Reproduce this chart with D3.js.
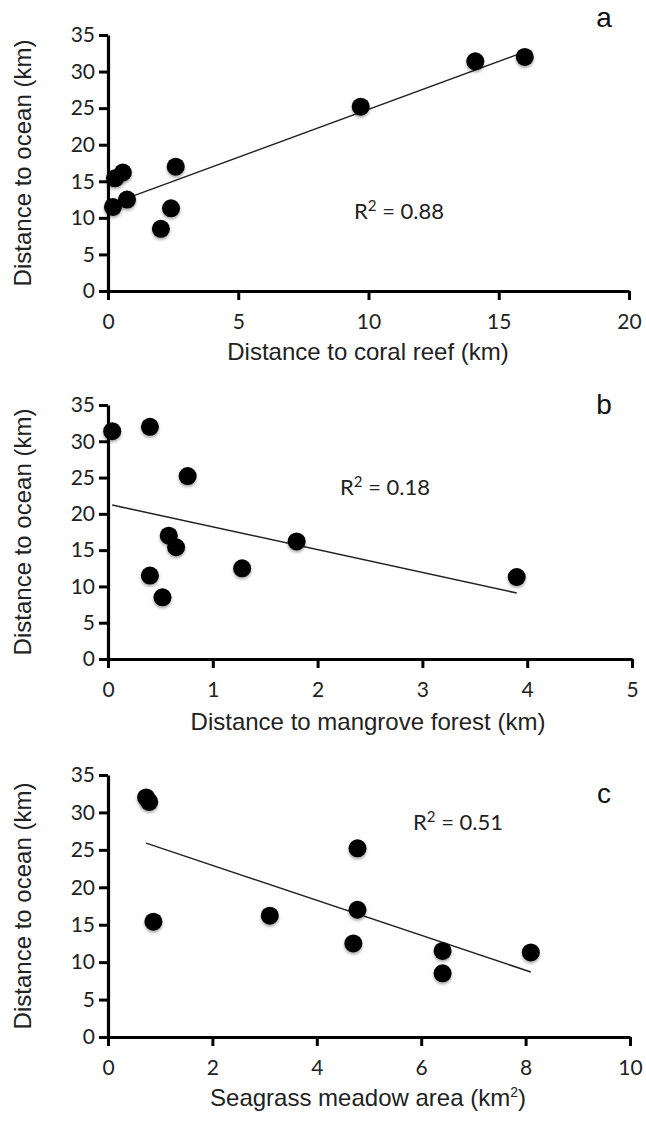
<!DOCTYPE html>
<html>
<head>
<meta charset="utf-8">
<script src="https://d3js.org/d3.v7.min.js"></script>
<style>
  body { margin: 0; background: #fff; }
  .tick text { font-family: Lato, "Open Sans", sans-serif; font-size: 21px; fill: #222; }
  .title { font-family: "Liberation Sans", Arial, sans-serif; font-size: 24px; fill: #222; }
  .rsq { font-family: Lato, "Open Sans", sans-serif; font-size: 22px; fill: #222; }
  .letter { font-family: "Liberation Sans", Arial, sans-serif; font-size: 28px; fill: #111; }
</style>
</head>
<body>
<svg id="vis" width="646" height="1128"></svg>
<script>
  // distance to ocean (km), same ten sites in every panel
  var oceanDist = [32.0, 31.4, 25.2, 17.0, 16.2, 15.4, 12.5, 11.5, 11.3, 8.5];

  // panel a, b, c x values (same site order as oceanDist)
  var coralReef = [16.0, 14.1, 9.7, 2.6, 0.57, 0.27, 0.73, 0.19, 2.42, 2.03];
  var mangrove  = [0.40, 0.04, 0.76, 0.58, 1.80, 0.65, 1.28, 0.40, 3.90, 0.52];
  var seagrass  = [0.73, 0.79, 4.78, 4.78, 3.10, 0.87, 4.70, 6.41, 8.10, 6.41];

  var yTicks = [0, 5, 10, 15, 20, 25, 30, 35];
  var coralTicks = [0, 5, 10, 15, 20];
  var mangroveTicks = [0, 1, 2, 3, 4, 5];
  var seagrassTicks = [0, 2, 4, 6, 8, 10];

  var rsqValues = ["0.88", "0.18", "0.51"];
  var panelLetters = ["a", "b", "c"];

  var svg = d3.select("#vis");

  // drop shadow under the dots
  var defs = svg.append("defs");
  defs.append("filter")
    .attr("id", "shadow")
    .attr("x", "-50%").attr("y", "-50%")
    .attr("width", "200%").attr("height", "200%")
    .append("feDropShadow")
    .attr("dx", 0).attr("dy", 2)
    .attr("stdDeviation", 1.6)
    .attr("flood-color", "#000")
    .attr("flood-opacity", 0.35);

  // layout of the three panels
  var panels = [
    { xs: coralReef, xTicks: coralTicks, left: 108, right: 629, top: 35, bottom: 291,
      xTitle: "Distance to coral reef (km)", titleY: 360, rsq: [354, 219], letterY: 27 },
    { xs: mangrove, xTicks: mangroveTicks, left: 108, right: 632, top: 405, bottom: 659,
      xTitle: "Distance to mangrove forest (km)", titleY: 730, rsq: [340, 495], letterY: 414 },
    { xs: seagrass, xTicks: seagrassTicks, left: 108, right: 630, top: 775, bottom: 1037,
      xTitle: "Seagrass meadow area (km", titleY: 1106, rsq: [413, 830], letterY: 803 }
  ];

  panels.forEach(function(p, i) {
    var xs = p.xs;
    var x = d3.scaleLinear()
      .domain([p.xTicks[0], p.xTicks[p.xTicks.length - 1]])
      .range([p.left, p.right]);
    var y = d3.scaleLinear()
      .domain([0, 35])
      .range([p.bottom, p.top]);

    var g = svg.append("g");

    // y axis
    var yAxis = g.append("g")
      .attr("transform", "translate(" + p.left + ",0)")
      .call(d3.axisLeft(y).tickValues(yTicks).tickFormat(d3.format("d"))
        .tickSize(9).tickSizeOuter(0).tickPadding(4));

    // x axis
    var xAxis = g.append("g")
      .attr("transform", "translate(0," + p.bottom + ")")
      .call(d3.axisBottom(x).tickValues(p.xTicks).tickFormat(d3.format("d"))
        .tickSize(9).tickSizeOuter(0).tickPadding(14));

    [yAxis, xAxis].forEach(function(a) {
      a.select(".domain").attr("stroke", "#000").attr("stroke-width", 3.2);
      a.selectAll(".tick line").attr("stroke", "#000").attr("stroke-width", 3);
    });

    // least squares trend line
    var pts = xs.map(function(v, k) { return [v, oceanDist[k]]; });
    var mx = d3.mean(xs), my = d3.mean(oceanDist);
    var sxy = d3.sum(pts, function(d) { return (d[0] - mx) * (d[1] - my); });
    var sxx = d3.sum(pts, function(d) { return (d[0] - mx) * (d[0] - mx); });
    var slope = sxy / sxx, icpt = my - slope * mx;
    var ext = d3.extent(xs);
    g.append("line")
      .attr("x1", x(ext[0])).attr("y1", y(icpt + slope * ext[0]))
      .attr("x2", x(ext[1])).attr("y2", y(icpt + slope * ext[1]))
      .attr("stroke", "#222")
      .attr("stroke-width", 1.5);

    // dots
    g.selectAll(".dot")
      .data(pts)
      .enter().append("circle")
      .attr("class", "dot")
      .attr("cx", function(d) { return x(d[0]); })
      .attr("cy", function(d) { return y(d[1]); })
      .attr("r", 9)
      .attr("fill", "#000")
      .attr("filter", "url(#shadow)");

    // x axis title
    var xt = g.append("text")
      .attr("class", "title")
      .attr("text-anchor", "middle")
      .attr("x", 368)
      .attr("y", p.titleY)
      .text(p.xTitle);
    if (i == 2) {
      xt.append("tspan").attr("font-size", 14).attr("dy", -9).text("2");
      xt.append("tspan").attr("dy", 9).text(")");
    }

    // y axis title
    g.append("text")
      .attr("class", "title")
      .attr("text-anchor", "middle")
      .attr("transform", "translate(31," + ((p.top + p.bottom) / 2) + ") rotate(-90)")
      .text("Distance to ocean (km)");

    // R squared
    var rt = g.append("text")
      .attr("class", "rsq")
      .attr("x", p.rsq[0])
      .attr("y", p.rsq[1])
      .text("R");
    rt.append("tspan").attr("font-size", 15).attr("dy", -8).text("2");
    rt.append("tspan").attr("dy", 8).text(" = " + rsqValues[i]);

    // panel letter
    g.append("text")
      .attr("class", "letter")
      .attr("text-anchor", "middle")
      .attr("x", 604)
      .attr("y", p.letterY)
      .text(panelLetters[i]);
  });
</script>
</body>
</html>
